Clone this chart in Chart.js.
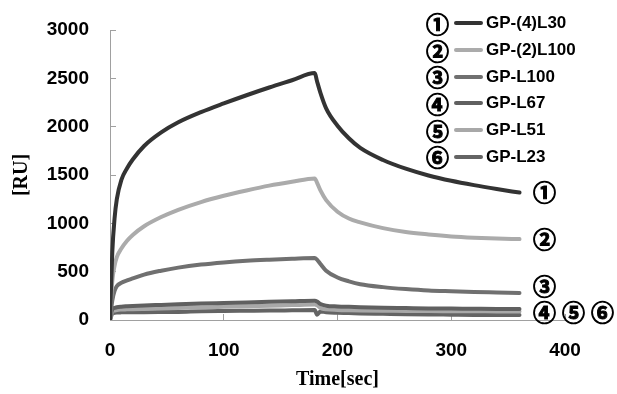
<!DOCTYPE html>
<html>
<head>
<meta charset="utf-8">
<script src="https://cdn.jsdelivr.net/npm/chart.js@4"></script>
<style>
  html, body { margin: 0; padding: 0; background: #fff; }
  #wrap { position: relative; width: 617px; height: 394px; }
  #legend { position: absolute; left: 426px; top: 10px; }
  .row { display: flex; align-items: center; height: 26.7px; }
  .num { font-family: "Noto Sans CJK JP", "DejaVu Sans", sans-serif; font-weight: bold; font-size: 23px; width: 28px; color: #000; line-height: 1; -webkit-text-stroke: 1px #000; }
  .swatch { width: 29px; height: 4px; border-radius: 2px; margin-right: 3px; }
  .name { font-family: "Liberation Sans", Arial, sans-serif; font-weight: bold; font-size: 17px; color: #000; }
</style>
</head>
<body>
<div id="wrap">
  <canvas id="chart" width="617" height="394"></canvas>
  <div id="legend"></div>
</div>
<script>
// Time points (sec), shared by every sensorgram
const timeSec = [0, 2, 4, 6, 10, 15, 20, 30, 45, 60, 80, 100, 120, 140, 160, 180,
                 182, 185, 190, 200, 210, 220, 240, 260, 280, 300, 320, 340, 360];

// Responses [RU]
const gp4L30  = [0, 700, 1050, 1250, 1450, 1570, 1660, 1800, 1940, 2045, 2150, 2240, 2325, 2405, 2480, 2555,
                 2470, 2350, 2190, 2010, 1880, 1780, 1655, 1565, 1495, 1440, 1395, 1355, 1318];
const gp2L100 = [0, 400, 560, 650, 740, 820, 880, 970, 1065, 1140, 1220, 1285, 1340, 1390, 1430, 1465,
                 1420, 1340, 1240, 1120, 1050, 1010, 950, 910, 885, 865, 852, 843, 837];
const gpL100  = [0, 200, 300, 350, 385, 410, 430, 470, 510, 542, 573, 595, 612, 624, 634, 642,
                 625, 580, 510, 440, 400, 370, 340, 320, 305, 297, 290, 285, 280];
const gpL67   = [0, 110, 125, 132, 138, 142, 145, 150, 156, 162, 170, 176, 182, 188, 194, 200,
                 192, 165, 148, 140, 136, 133, 128, 124, 120, 118, 116, 114, 113];
const gpL51   = [0, 85, 98, 104, 108, 110, 112, 115, 119, 124, 130, 136, 142, 148, 154, 160,
                 152, 125, 110, 104, 101, 99, 96, 94, 92, 91, 90, 89, 88];
const gpL23   = [0, 65, 74, 77, 79, 80, 80, 81, 82, 83, 90, 93, 95, 97, 100, 103,
                 55, 88, 80, 75, 72, 68, 64, 60, 57, 55, 53, 52, 51];

const seriesNames  = ['GP-(4)L30', 'GP-(2)L100', 'GP-L100', 'GP-L67', 'GP-L51', 'GP-L23'];
const seriesValues = [gp4L30, gp2L100, gpL100, gpL67, gpL51, gpL23];
const seriesColors = ['#333333', '#ababab', '#707070', '#606060', '#a8a8a8', '#646464'];
const circled = ['①', '②', '③', '④', '⑤', '⑥'];

const yTicks = [0, 500, 1000, 1500, 2000, 2500, 3000];
const xTicks = [0, 100, 200, 300, 400];

// build legend
const legendEl = document.getElementById('legend');
seriesNames.forEach((name, i) => {
    const row = document.createElement('div');
    row.className = 'row';
    row.innerHTML = `<span class="num">${circled[i]}</span>` +
        `<span class="swatch" style="background:${seriesColors[i]}"></span>` +
        `<span class="name">${name}</span>`;
    legendEl.appendChild(row);
});

// circled numbers at the end of each curve
const endLabels = {
    id: 'endLabels',
    afterDatasetsDraw(chart) {
        const ctx = chart.ctx;
        const xs = chart.scales.x, ys = chart.scales.y;
        const lastT = timeSec[timeSec.length - 1];
        const x0 = xs.getPixelForValue(lastT) + 25;
        ctx.save();
        ctx.font = 'bold 23px "Noto Sans CJK JP", "DejaVu Sans", sans-serif';
        ctx.fillStyle = '#000';
        ctx.strokeStyle = '#000';
        ctx.lineWidth = 1;
        ctx.textAlign = 'center';
        ctx.textBaseline = 'middle';
        const put = (s, x, y) => { ctx.fillText(s, x, y); ctx.strokeText(s, x, y); };
        for (let i = 0; i < 3; i++) {
            const v = seriesValues[i][seriesValues[i].length - 1];
            put(circled[i], x0, ys.getPixelForValue(v) - (i === 2 ? 7 : 0));
        }
        const yLow = ys.getPixelForValue(0) - 8;
        for (let i = 3; i < 6; i++) {
            put(circled[i], x0 + (i - 3) * 29, yLow);
        }
        ctx.restore();
    }
};

const tickFont = { family: '"Liberation Sans", Arial, sans-serif', weight: 'bold', size: 19 };

const ctx = document.getElementById('chart').getContext('2d');
new Chart(ctx, {
    type: 'line',
    data: {
        datasets: seriesNames.map((name, i) => ({
            label: name,
            data: timeSec.map((t, k) => ({ x: t, y: seriesValues[i][k] })),
            borderColor: seriesColors[i],
            borderWidth: 4,
            pointRadius: 0,
            fill: false,
            cubicInterpolationMode: 'monotone',
            borderCapStyle: 'round',
            borderJoinStyle: 'round'
        }))
    },
    options: {
        responsive: false,
        animation: false,
        devicePixelRatio: 1,
        layout: { padding: { top: 30, right: 52, left: 0, bottom: 0 } },
        plugins: { legend: { display: false }, tooltip: { enabled: false } },
        scales: {
            x: {
                type: 'linear',
                min: 0, max: 400,
                afterBuildTicks: s => { s.ticks = xTicks.map(v => ({ value: v })); },
                afterFit: s => { s.height = 74; s.paddingLeft = 0; s.paddingRight = 0; },
                grid: { drawOnChartArea: false, drawTicks: true, tickLength: -6, color: '#a0a0a0' },
                border: { color: '#a0a0a0', width: 1 },
                ticks: { padding: 25, color: '#000', font: tickFont, callback: v => String(v) },
                title: { display: true, text: 'Time[sec]', color: '#000', padding: { top: 0, bottom: 2 },
                         font: { family: '"Liberation Serif", serif', weight: 'bold', size: 20 } }
            },
            y: {
                min: 0, max: 3000,
                afterBuildTicks: s => { s.ticks = yTicks.map(v => ({ value: v })); },
                afterFit: s => { s.width = 110; s.paddingTop = 0; s.paddingBottom = 0; },
                grid: { drawOnChartArea: false, drawTicks: true, tickLength: -6, color: '#a0a0a0' },
                border: { color: '#a0a0a0', width: 1 },
                ticks: { padding: 27, color: '#000', font: tickFont, callback: v => String(v) },
                title: { display: true, text: '[RU]', color: '#000', padding: { top: 10, bottom: 0 },
                         font: { family: '"Liberation Serif", serif', weight: 'bold', size: 20 } }
            }
        }
    },
    plugins: [endLabels]
});
</script>
</body>
</html>
